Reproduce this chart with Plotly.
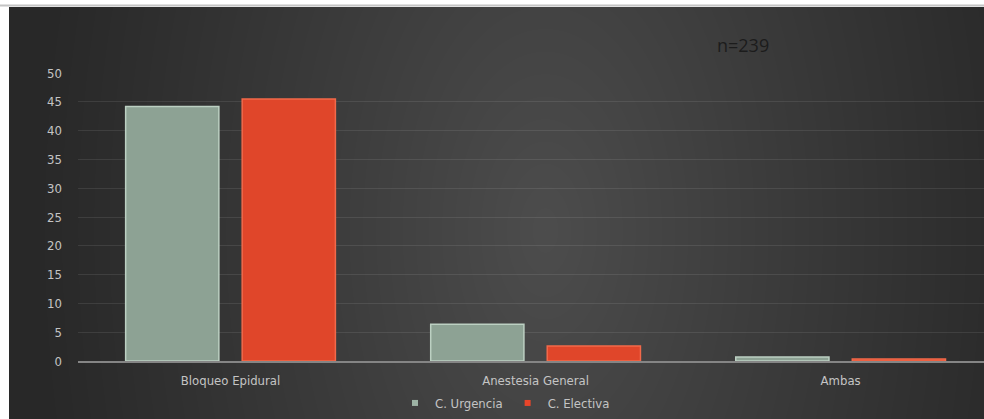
import base64, struct, zlib, math
import plotly.graph_objects as go

categories = ["Bloqueo Epidural", "Anestesia General", "Ambas"]
urgencia = [44.2, 6.4, 0.7]
electiva = [45.5, 2.6, 0.35]
series_names = ["C. Urgencia", "C. Electiva"]
y_ticks = [0, 5, 10, 15, 20, 25, 30, 35, 40, 45, 50]

W, H = 984, 419
L, T = 78, 73          # plot left / top (px)
B = H - 361            # plot bottom at y=361
PW, PH = W - L, H - T - B

# background gradient image (chart area x 9..984, y 7..419)
bx0, by0 = 9, 7
iw, ih = W - bx0, H - by0
rows = []
for j in range(ih):
    y = by0 + j
    row = bytearray([0])
    for i in range(iw):
        x = bx0 + i
        d = math.sqrt(((x - 545) / 520.0) ** 2 + ((y - 230) / 900.0) ** 2)
        c = int(40 + 37 * max(0.0, 1 - d) ** 1.1)
        row += bytes((c, c, c))
    rows.append(bytes(row))
raw = b"".join(rows)

def chunk(tag, data):
    c = struct.pack(">I", len(data)) + tag + data
    return c + struct.pack(">I", zlib.crc32(tag + data) & 0xffffffff)

png = b"\x89PNG\r\n\x1a\n" + chunk(b"IHDR", struct.pack(">IIBBBBB", iw, ih, 8, 2, 0, 0, 0)) \
    + chunk(b"IDAT", zlib.compress(raw, 9)) + chunk(b"IEND", b"")
uri = "data:image/png;base64," + base64.b64encode(png).decode()

def px_x(px):
    return (px - L) / PW

def px_y(py):
    return (H - B - py) / PH

font_fam = "DejaVu Sans Condensed, sans-serif"
txt_col = "#C4C4C4"

fig = go.Figure()
fig.add_trace(go.Bar(
    x=categories, y=urgencia, name=series_names[0], showlegend=False,
    marker=dict(color="#8DA294", line=dict(color="#BCD0C2", width=1.5)),
))
fig.add_trace(go.Bar(
    x=categories, y=electiva, name=series_names[1], showlegend=False,
    marker=dict(color="#E0462A", line=dict(color="#F2694A", width=1.5)),
))
# legend entries with small square keys
fig.add_trace(go.Scatter(x=[None], y=[None], mode="markers", name=series_names[0],
                         marker=dict(symbol="square", size=6, color="#9DB3A5")))
fig.add_trace(go.Scatter(x=[None], y=[None], mode="markers", name=series_names[1],
                         marker=dict(symbol="square", size=6, color="#E8452A")))

fig.update_layout(
    width=W, height=H,
    margin=dict(l=L, r=0, t=T, b=B, pad=0),
    paper_bgcolor="white",
    plot_bgcolor="rgba(0,0,0,0)",
    barmode="group", bargap=0.236, bargroupgap=0.2,
    font=dict(family=font_fam, size=13, color=txt_col),
    showlegend=True,
    legend=dict(orientation="h", x=px_x(505), y=px_y(403),
                xanchor="center", yanchor="middle",
                font=dict(family=font_fam, size=13, color=txt_col),
                bgcolor="rgba(0,0,0,0)", itemwidth=30, tracegroupgap=0),
    xaxis=dict(range=[-0.5, 2.47], showgrid=False, showline=True,
               linecolor="#858585", linewidth=1.5, ticks="", ticklabelstandoff=7,
               tickfont=dict(family=font_fam, size=13, color=txt_col)),
    yaxis=dict(range=[0, 50], tickvals=y_ticks, showgrid=True,
               gridcolor="rgba(255,255,255,0.09)", gridwidth=1,
               zeroline=False, showline=False, ticks="", ticklabelstandoff=15,
               tickfont=dict(family=font_fam, size=13, color=txt_col)),
    images=[dict(source=uri, xref="paper", yref="paper",
                 x=px_x(bx0), y=px_y(by0),
                 sizex=iw / PW, sizey=ih / PH,
                 xanchor="left", yanchor="top", sizing="stretch",
                 layer="below")],
    shapes=[dict(type="line", xref="paper", yref="paper",
                 x0=px_x(0), x1=1.0, y0=px_y(5.5), y1=px_y(5.5),
                 line=dict(color="#C4C4C4", width=2), layer="below")],
    annotations=[dict(text="n=239", xref="paper", yref="paper",
                      x=px_x(743), y=px_y(45),
                      xanchor="center", yanchor="middle", showarrow=False,
                      font=dict(family="Open Sans, sans-serif", size=18, color="#1C1C1C"))],
)

fig.write_html(
    "out.html",
    config={"displayModeBar": False},
    post_script="document.body.style.margin='0';document.body.style.overflow='hidden';"
                "document.documentElement.style.overflow='hidden';",
)
